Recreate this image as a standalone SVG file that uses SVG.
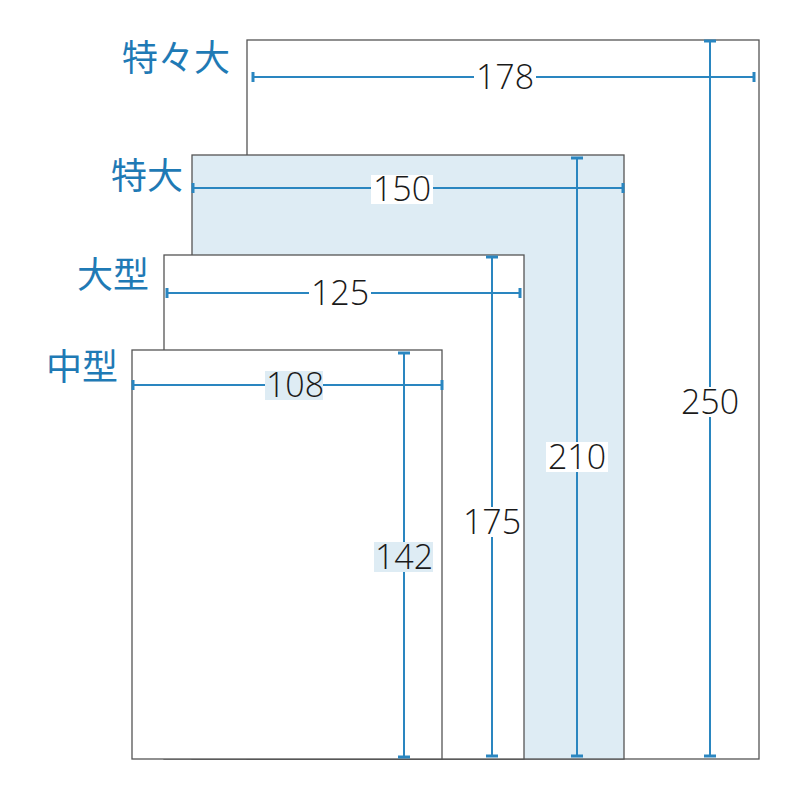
<svg xmlns="http://www.w3.org/2000/svg" width="800" height="800" viewBox="0 0 800 800">
<style>
.sheet{stroke:#555;stroke-width:1.3;}
.dim{stroke:#2a86c0;stroke-width:2;fill:none;}
.tick{stroke:#2a86c0;stroke-width:3;}
.num{font-family:"Open Sans","Noto Sans",sans-serif;font-size:34px;font-weight:300;fill:#1a1a1a;text-anchor:middle;}
.lbl{font-family:"Noto Sans CJK JP","Noto Sans",sans-serif;font-size:36px;fill:#1f7ab5;text-anchor:end;}
.bgb{fill:#deecf4;}
.bgw{fill:#ffffff;}
</style>
<rect width="800" height="800" fill="#fff"/>
<g id="tokutokudai">
<rect class="sheet" x="247" y="40" width="512" height="719" fill="#fff"/>
<text class="lbl" x="230" y="71">特々大</text>
</g>
<g id="tokudai">
<rect class="sheet" x="192" y="155" width="432" height="604" fill="#deecf4"/>
<text class="lbl" x="183" y="189">特大</text>
</g>
<g id="oogata">
<rect class="sheet" x="164" y="255" width="360" height="504" fill="#fff"/>
<text class="lbl" x="149" y="288">大型</text>
</g>
<g id="chuugata">
<rect class="sheet" x="132" y="350" width="310" height="409" fill="#fff"/>
<text class="lbl" x="118" y="380">中型</text>
</g>
<g id="connectors">
<line class="dim" x1="253" y1="77" x2="754" y2="77"/>
<line class="tick" x1="253" y1="72" x2="253" y2="82"/>
<line class="tick" x1="754" y1="72" x2="754" y2="82"/>
<line class="dim" x1="710" y1="41" x2="710" y2="756"/>
<line class="tick" x1="704" y1="41" x2="716" y2="41"/>
<line class="tick" x1="704" y1="756" x2="716" y2="756"/>

<line class="dim" x1="193" y1="188" x2="623" y2="188"/>
<line class="tick" x1="193" y1="183" x2="193" y2="193"/>
<line class="tick" x1="623" y1="183" x2="623" y2="193"/>
<line class="dim" x1="577" y1="158" x2="577" y2="756"/>
<line class="tick" x1="571" y1="158" x2="583" y2="158"/>
<line class="tick" x1="571" y1="756" x2="583" y2="756"/>

<line class="dim" x1="167" y1="293" x2="520" y2="293"/>
<line class="tick" x1="167" y1="288" x2="167" y2="298"/>
<line class="tick" x1="520" y1="288" x2="520" y2="298"/>
<line class="dim" x1="492" y1="257" x2="492" y2="756"/>
<line class="tick" x1="486" y1="257" x2="498" y2="257"/>
<line class="tick" x1="486" y1="756" x2="498" y2="756"/>

<line class="dim" x1="133" y1="385" x2="442" y2="385"/>
<line class="tick" x1="133" y1="380" x2="133" y2="390"/>
<line class="tick" x1="442" y1="380" x2="442" y2="390"/>
<line class="dim" x1="404" y1="353" x2="404" y2="757"/>
<line class="tick" x1="398" y1="353" x2="410" y2="353"/>
<line class="tick" x1="398" y1="757" x2="410" y2="757"/>
</g>
<g id="dim-labels">
<rect class="bgw" x="474" y="63" width="62" height="29"/>
<text class="num" x="505" y="89">178</text>
<rect class="bgw" x="679" y="387" width="62" height="30"/>
<text class="num" x="710" y="414">250</text>
<rect class="bgw" x="371" y="175" width="62" height="29"/>
<text class="num" x="402" y="201">150</text>
<rect class="bgw" x="546" y="442" width="62" height="30"/>
<text class="num" x="577" y="469">210</text>
<rect class="bgw" x="309" y="279" width="62" height="29"/>
<text class="num" x="340" y="305">125</text>
<rect class="bgw" x="461" y="507" width="62" height="30"/>
<text class="num" x="492" y="534">175</text>
<rect class="bgb" x="265" y="371" width="58" height="29"/>
<text class="num" x="295" y="397">108</text>
<rect class="bgb" x="374" y="542" width="59" height="30"/>
<text class="num" x="404" y="569">142</text>
</g>
</svg>
